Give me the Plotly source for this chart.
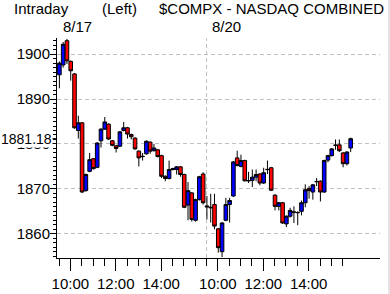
import plotly.graph_objects as go

# ---------------- data (10-minute bars, two sessions) ----------------
day1_open = [1895.4, 1897.6, 1903.0, 1898.4, 1895.6, 1883.0, 1884.7, 1869.6, 1873.9, 1876.7,
             1874.8, 1880.7, 1883.3, 1884.4, 1880.7, 1879.6, 1879.5, 1883.0, 1883.6, 1882.1,
             1881.3, 1878.4, 1877.25, 1877.8, 1880.4, 1878.5, 1878.7, 1877.4, 1872.8, 1872.3,
             1874.3, 1874.3, 1874.9, 1873.2, 1866.4, 1869.1, 1863.0, 1867.6, 1873.3]
day1_high = [1898.4, 1902.7, 1903.4, 1898.6, 1895.8, 1886.3, 1884.9, 1873.4, 1878.0, 1876.9,
             1880.4, 1883.5, 1886.0, 1884.6, 1880.9, 1879.8, 1882.9, 1884.9, 1883.8, 1882.3,
             1881.5, 1878.6, 1878.0, 1880.8, 1880.6, 1880.0, 1878.9, 1877.6, 1873.0, 1876.3,
             1874.7, 1875.1, 1875.1, 1873.4, 1871.5, 1869.3, 1867.8, 1872.9, 1873.7]
day1_low = [1892.4, 1897.0, 1897.8, 1894.1, 1883.4, 1881.2, 1869.1, 1869.4, 1873.7, 1874.3,
            1874.6, 1879.2, 1883.1, 1880.9, 1879.5, 1878.1, 1879.3, 1882.8, 1881.2, 1881.0,
            1878.7, 1875.0, 1876.3, 1877.6, 1877.8, 1878.3, 1877.0, 1872.4, 1871.7, 1872.1,
            1874.1, 1873.2, 1872.7, 1865.7, 1863.0, 1862.7, 1862.7, 1867.4, 1866.5]
day1_close = [1898.0, 1902.2, 1898.5, 1896.3, 1883.6, 1884.7, 1869.3, 1873.2, 1876.5, 1874.5,
              1880.2, 1883.3, 1884.9, 1881.1, 1879.7, 1879.0, 1882.7, 1883.6, 1882.2, 1881.6,
              1878.9, 1876.9, 1877.2, 1880.6, 1878.4, 1879.1, 1877.2, 1872.8, 1872.3, 1874.3,
              1874.5, 1874.9, 1873.2, 1865.9, 1869.6, 1863.2, 1867.6, 1872.7, 1866.9]

day2_open = [1866.2, 1865.9, 1866.5, 1861.1, 1856.0, 1863.0, 1866.5, 1868.4, 1876.9, 1875.0,
             1876.3, 1871.85, 1871.9, 1872.6, 1873.3, 1871.3, 1874.35, 1874.7, 1868.6, 1866.1,
             1866.9, 1862.2, 1863.9, 1864.85, 1864.75, 1865.0, 1866.9, 1870.1, 1869.3, 1871.65,
             1871.7, 1869.3, 1876.4, 1877.4, 1879.75, 1879.8, 1878.0, 1875.6, 1879.1]
day2_high = [1868.4, 1868.9, 1868.9, 1861.3, 1862.6, 1868.0, 1868.0, 1876.2, 1878.5, 1877.6,
             1876.5, 1873.8, 1874.3, 1874.3, 1873.5, 1874.7, 1876.3, 1874.9, 1868.8, 1867.1,
             1867.1, 1864.1, 1865.8, 1866.1, 1865.0, 1867.4, 1871.0, 1870.6, 1871.1, 1872.4,
             1871.9, 1876.5, 1877.6, 1879.1, 1881.0, 1881.0, 1878.2, 1878.4, 1881.4]
day2_low = [1863.2, 1862.5, 1861.0, 1855.8, 1854.8, 1862.8, 1862.5, 1868.2, 1875.0, 1874.8,
            1871.6, 1871.3, 1870.4, 1871.7, 1870.8, 1871.1, 1873.3, 1869.5, 1865.2, 1865.2,
            1862.2, 1861.5, 1863.6, 1862.4, 1861.9, 1864.1, 1865.9, 1867.8, 1867.6, 1870.6,
            1867.2, 1869.1, 1875.9, 1877.2, 1878.7, 1878.2, 1874.8, 1875.2, 1878.2]
day2_close = [1866.0, 1865.8, 1861.7, 1856.9, 1862.4, 1866.5, 1867.4, 1876.0, 1875.2, 1876.3,
              1871.8, 1871.8, 1872.6, 1873.2, 1871.3, 1873.6, 1874.3, 1869.7, 1866.1, 1866.9,
              1862.4, 1863.9, 1865.2, 1864.8, 1864.7, 1866.9, 1869.8, 1869.6, 1870.9, 1871.6,
              1869.3, 1876.3, 1877.4, 1878.9, 1879.7, 1878.5, 1875.6, 1878.2, 1881.18]

day_labels = ["8/17", "8/20"]
time_labels = ["10:00", "12:00", "14:00"]
label_minutes = [30, 150, 270]          # minutes after 9:30 open
bar_minutes = 10
session_minutes = 390                   # 9:30 - 16:00
last_price = 1881.18

# ---------------- build x (minutes since first open) ----------------
x1 = [i * bar_minutes + 1 for i in range(len(day1_close))]
x2 = [session_minutes + j * bar_minutes + 1 for j in range(len(day2_close))]
xs = x1 + x2
opens = day1_open + day2_open
highs = day1_high + day2_high
lows = day1_low + day2_low
closes = day1_close + day2_close

tickvals = label_minutes + [session_minutes + m for m in label_minutes]
ticktext = time_labels + time_labels
minor_vals = list(range(0, 2 * session_minutes - 29, 30))

FONT = "Liberation Sans, Arial"
W, H = 390, 294
L, R, T, B = 57, 10, 38, 36
PW, PH = W - L - R, H - T - B


def px(xp):
    return (xp - L) / PW


def py(yp):
    return (H - B - yp) / PH


fig = go.Figure(go.Candlestick(
    x=xs, open=opens, high=highs, low=lows, close=closes,
    increasing=dict(fillcolor="#0000ff", line=dict(color="black", width=1)),
    decreasing=dict(fillcolor="#ff0000", line=dict(color="black", width=1)),
    whiskerwidth=0, showlegend=False, hoverinfo="skip",
))

grid = "#c0c0c0"
fig.update_layout(
    width=W, height=H,
    margin=dict(l=L, r=R, t=T, b=B, autoexpand=False),
    paper_bgcolor="white", plot_bgcolor="white",
    boxgap=0.05, boxgroupgap=0,
    font=dict(family=FONT, size=14, color="black"),
    xaxis=dict(
        range=[-5.3, 848.5], rangeslider=dict(visible=False),
        tickmode="array", tickvals=tickvals, ticktext=ticktext,
        ticks="outside", ticklen=12, tickcolor="black", tickwidth=1,
        minor=dict(tickmode="array", tickvals=minor_vals, ticks="outside",
                   ticklen=7, tickcolor="black", tickwidth=1, showgrid=False),
        showline=True, linecolor="black", linewidth=1,
        showgrid=False, zeroline=False,
        tickfont=dict(family=FONT, size=15, color="black"),
    ),
    yaxis=dict(
        range=[1854.6, 1903.6],
        tickmode="linear", tick0=1860, dtick=10,
        ticks="outside", ticklen=6, tickcolor="black", tickwidth=1,
        ticklabelstandoff=-3,
        minor=dict(dtick=1, tick0=1860, ticks="outside", ticklen=3,
                   tickcolor="black", tickwidth=1, showgrid=False),
        showline=True, linecolor="black", linewidth=1,
        showgrid=True, gridcolor=grid, gridwidth=1, griddash="4px,3px",
        zeroline=False,
        tickfont=dict(family=FONT, size=15, color="black"),
    ),
)

# day separator
fig.add_shape(type="line", xref="x", yref="paper", x0=session_minutes, x1=session_minutes,
              y0=0, y1=1, line=dict(color=grid, width=1, dash="4px,3px"), layer="below")
# window border on the right
fig.add_shape(type="line", xref="paper", yref="paper", x0=px(389), x1=px(389),
              y0=py(294), y1=py(0), line=dict(color="#c8c8c8", width=1))
# last price tick
fig.add_shape(type="line", xref="paper", yref="y", x0=px(51), x1=0,
              y0=last_price, y1=last_price, line=dict(color="black", width=1))

fig.add_annotation(xref="paper", yref="y", x=px(53), y=last_price, text=f"{last_price:.2f}",
                   showarrow=False, xanchor="right", yanchor="middle", bgcolor="white",
                   borderpad=0, font=dict(family=FONT, size=14, color="black"))

titles = [("Intraday", 12), ("(Left)", 100), ("$COMPX - NASDAQ COMBINED", 157)]
for txt, xp in titles:
    fig.add_annotation(xref="paper", yref="paper", x=px(xp), y=py(9), text=txt,
                       showarrow=False, xanchor="left", yanchor="middle",
                       font=dict(family=FONT, size=15, color="black"))
for txt, xp in zip(day_labels, [77.5, 226.5]):
    fig.add_annotation(xref="paper", yref="paper", x=px(xp), y=py(27), text=txt,
                       showarrow=False, xanchor="center", yanchor="middle",
                       font=dict(family=FONT, size=15, color="black"))

fig.write_html("out.html")
